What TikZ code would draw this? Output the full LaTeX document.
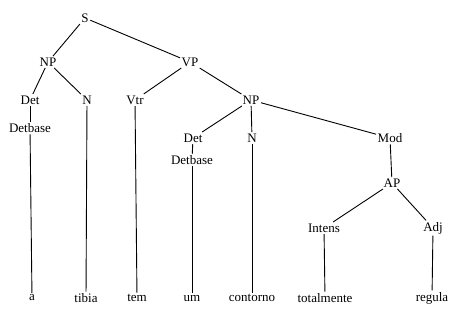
\documentclass[tikz,border=0pt]{standalone}
\usepackage{fontspec}
\setmainfont{Liberation Serif}
\begin{document}
\begin{tikzpicture}[x=1pt, y=-1pt,
	cat/.style = {inner sep = 1.5pt, font = \fontsize{13}{15}\selectfont},
	edge/.style = {line width = 0.9pt}]

	\useasboundingbox (0,0) rectangle (462,322);

	% categories
	\node [cat] (S) at (85,18) {S};
	\node [cat] (NPa) at (48,62) {NP};
	\node [cat] (VP) at (190,62) {VP};
	\node [cat] (Deta) at (30,100) {Det};
	\node [cat] (Na) at (87,100) {N};
	\node [cat] (Vtr) at (135,100) {Vtr};
	\node [cat] (NPb) at (251,100) {NP};
	\node [cat] (Detbasea) at (30,128) {Detbase};
	\node [cat] (Detb) at (193,138) {Det};
	\node [cat] (Nb) at (252,138) {N};
	\node [cat] (Mod) at (390,138) {Mod};
	\node [cat] (Detbaseb) at (192,160) {Detbase};
	\node [cat] (AP) at (392,183) {AP};
	\node [cat] (Intens) at (324,228) {Intens};
	\node [cat] (Adj) at (433,228) {Adj};

	% words
	\node [cat] (a) at (32,298) {a};
	\node [cat] (tibia) at (86,298) {tibia};
	\node [cat] (tem) at (137,298) {tem};
	\node [cat] (um) at (192,298) {um};
	\node [cat] (contorno) at (252,298) {contorno};
	\node [cat] (totalmente) at (325,298) {totalmente};
	\node [cat] (regula) at (432,298) {regula};

	\draw [edge] (S) -- (NPa);
	\draw [edge] (S) -- (VP);
	\draw [edge] (NPa) -- (Deta);
	\draw [edge] (NPa) -- (Na);
	\draw [edge] (VP) -- (Vtr);
	\draw [edge] (VP) -- (NPb);
	\draw [edge] (NPb) -- (Detb);
	\draw [edge] (NPb) -- (Nb);
	\draw [edge] (NPb) -- (Mod);
	\draw [edge] (Mod) -- (AP);
	\draw [edge] (AP) -- (Intens);
	\draw [edge] (AP) -- (Adj);

	\draw [edge] (Deta) -- (Detbasea);
	\draw [edge] (Detbasea) -- (a);
	\draw [edge] (Na) -- (tibia);
	\draw [edge] (Vtr) -- (tem);
	\draw [edge] (Detb) -- (Detbaseb);
	\draw [edge] (Detbaseb) -- (um);
	\draw [edge] (Nb) -- (contorno);
	\draw [edge] (Intens) -- (totalmente);
	\draw [edge] (Adj) -- (regula);

\end{tikzpicture}
\end{document}
